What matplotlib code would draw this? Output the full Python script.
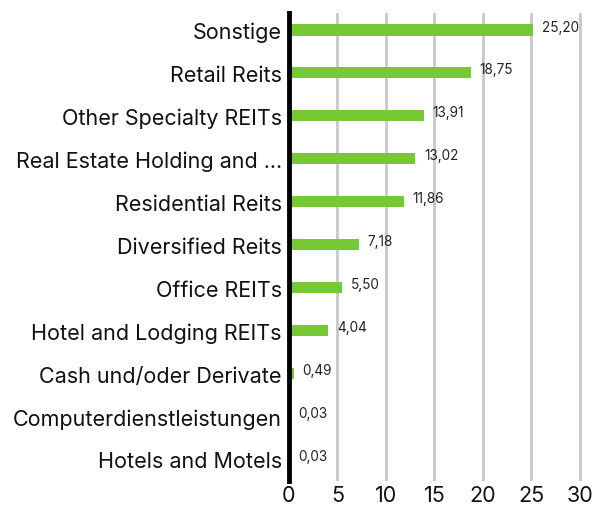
import numpy as np
import matplotlib.pyplot as plt

categories = ["Sonstige", "Retail Reits", "Other Specialty REITs",
              "Real Estate Holding and ...", "Residential Reits", "Diversified Reits",
              "Office REITs", "Hotel and Lodging REITs", "Cash und/oder Derivate",
              "Computerdienstleistungen", "Hotels and Motels"]
weights = [25.20, 18.75, 13.91, 13.02, 11.86, 7.18, 5.50, 4.04, 0.49, 0.03, 0.03]
xticks = [0, 5, 10, 15, 20, 25, 30]

plt.rcParams["font.family"] = ["Inter", "DejaVu Sans"]

fig = plt.figure(figsize=(5.92, 5.10), dpi=100)
ax = fig.add_axes([0.488, 0.055, 0.4965, 0.918])

y = np.arange(len(categories))
ax.barh(y, weights, height=0.26, color="#76c935", zorder=3)

for yi, w in zip(y, weights):
    ax.text(w + 0.9, yi - 0.08, f"{w:.2f}".replace(".", ","), va="center", ha="left",
            fontsize=9.8, color="#222222", zorder=4)

ax.set_xlim(0, 30.3)
ax.set_ylim(10.5, -0.4)
ax.set_xticks(xticks)
ax.set_yticks(y)
ax.set_yticklabels(categories, fontsize=15.5, color="#111111")
ax.tick_params(axis="x", labelsize=15.5, length=0, pad=3, colors="#111111")
ax.tick_params(axis="y", length=0, pad=5)

ax.grid(axis="x", color="#c8c8c8", linewidth=2, zorder=0)
ax.set_axisbelow(True)
for side in ["top", "right", "bottom"]:
    ax.spines[side].set_visible(False)
ax.spines["left"].set_linewidth(3.5)
ax.spines["left"].set_color("black")
ax.spines["left"].set_zorder(5)

fig.savefig("out.png", dpi=100)
